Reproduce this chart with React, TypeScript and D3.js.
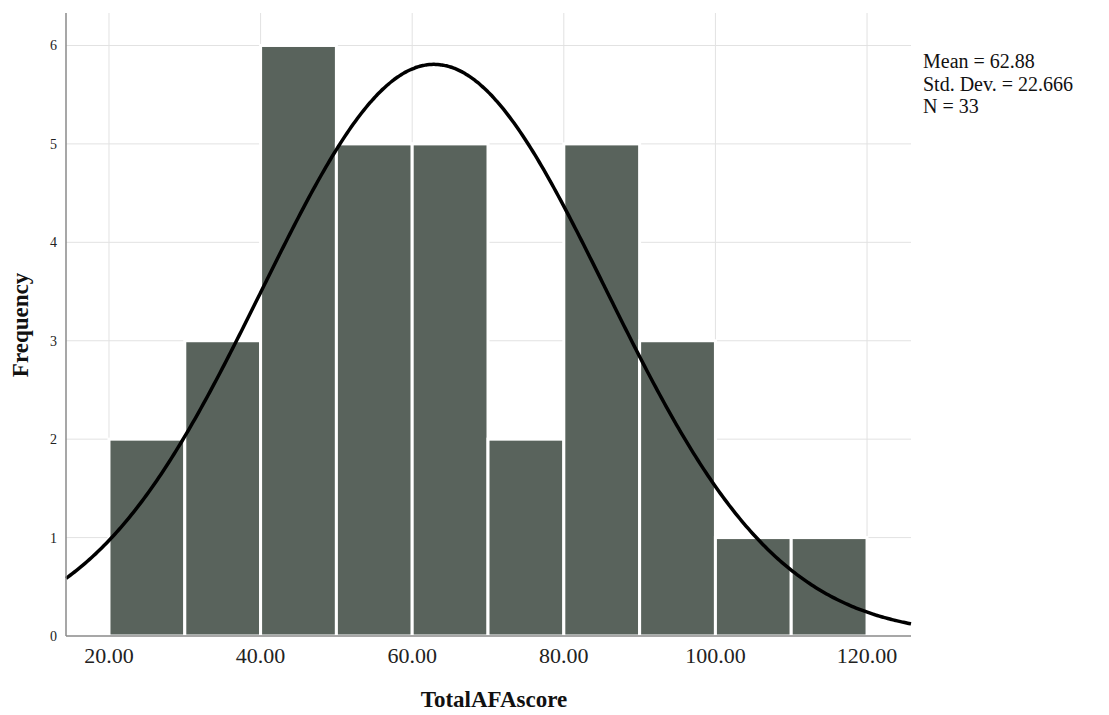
import React from "react";
import * as d3 from "d3";

const binStarts = [20, 30, 40, 50, 60, 70, 80, 90, 100, 110];
const binWidth = 10;
const frequencies = [2, 3, 6, 5, 5, 2, 5, 3, 1, 1];
const xTicks = [20, 40, 60, 80, 100, 120];
const yTicks = [0, 1, 2, 3, 4, 5, 6];
const meanValue = 62.88;
const sdValue = 22.666;
const nValue = 33;
const statLines = ["Mean = 62.88", "Std. Dev. = 22.666", "N = 33"];

export default function App() {
  const W = 1109, H = 715;
  const left = 66, right = 911, top = 13, bottom = 636;
  const x = d3.scaleLinear().domain([14.33, 125.8]).range([left, right]);
  const y = d3.scaleLinear().domain([0, 6.33]).range([bottom, top]);
  const scaleK = nValue * binWidth / (sdValue * Math.sqrt(2 * Math.PI));
  const curvePts: [number, number][] = d3.range(0, 401).map((i) => {
    const v = 14.33 + (125.8 - 14.33) * (i / 400);
    const z = (v - meanValue) / sdValue;
    return [v, scaleK * Math.exp(-0.5 * z * z)];
  });
  const line = d3.line<[number, number]>().x((d) => x(d[0])).y((d) => y(d[1])).curve(d3.curveBasis);
  const serif = "'Liberation Serif', 'Times New Roman', serif";
  return (
    <svg width={W} height={H} style={{ position: "absolute", left: 0, top: 0, background: "#fff" }}>
      {yTicks.slice(1).map((t) => (
        <line key={"gy" + t} x1={left} x2={right} y1={y(t)} y2={y(t)} stroke="#e2e2e2" strokeWidth={1} />
      ))}
      {xTicks.map((t) => (
        <line key={"gx" + t} x1={x(t)} x2={x(t)} y1={top} y2={bottom} stroke="#e2e2e2" strokeWidth={1} />
      ))}
      {binStarts.map((b, i) => (
        <rect key={"b" + i} x={x(b)} y={y(frequencies[i])} width={x(b + binWidth) - x(b)} height={bottom - y(frequencies[i])}
          fill="#59635c" stroke="#fff" strokeWidth={3} />
      ))}
      <path d={line(curvePts) || ""} fill="none" stroke="#000" strokeWidth={3.5} />
      <line x1={left} x2={left} y1={top} y2={bottom} stroke="#8a8a8a" strokeWidth={1.5} />
      <line x1={left} x2={right} y1={bottom} y2={bottom} stroke="#8a8a8a" strokeWidth={1.5} />
      {yTicks.map((t) => (
        <text key={"yt" + t} x={57} y={y(t) + 5} textAnchor="end" fontFamily={serif} fontSize={14} fill="#222">{t}</text>
      ))}
      {xTicks.map((t) => (
        <text key={"xt" + t} x={x(t)} y={663} textAnchor="middle" fontFamily={serif} fontSize={22} fill="#222">{t.toFixed(2)}</text>
      ))}
      <text x={494} y={707} textAnchor="middle" fontFamily={serif} fontSize={23} fontWeight="bold" fill="#111">TotalAFAscore</text>
      <text transform={`translate(28,325) rotate(-90)`} textAnchor="middle" fontFamily={serif} fontSize={23} fontWeight="bold" fill="#111">Frequency</text>
      {statLines.map((s, i) => (
        <text key={"s" + i} x={923} y={68 + i * 22.5} fontFamily={serif} fontSize={20} fill="#111">{s}</text>
      ))}
    </svg>
  );
}
